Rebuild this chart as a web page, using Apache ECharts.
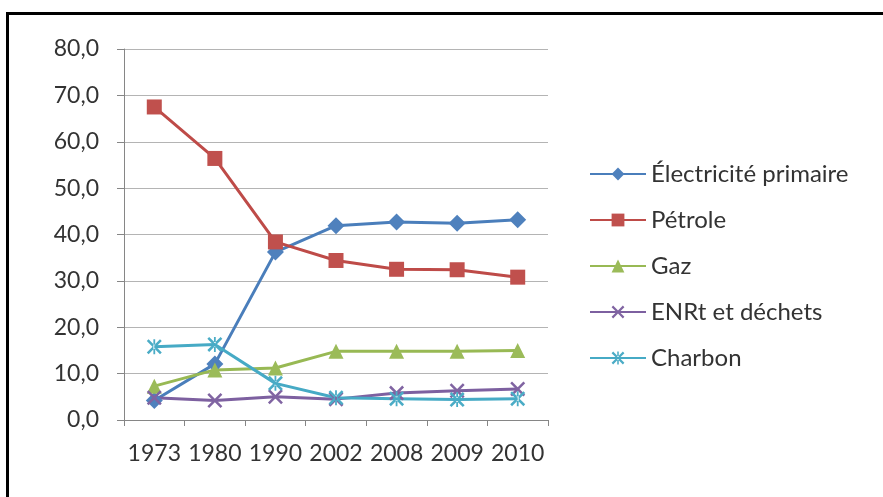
<!DOCTYPE html>
<html lang="fr">
<head>
    <meta charset="UTF-8">
    <title>Consommation d'énergie primaire</title>
    <script src="https://cdn.jsdelivr.net/npm/echarts@6.0.0/dist/echarts.min.js"></script>
    <style>
        html, body { margin: 0; padding: 0; background: #fff; }
        #cadre { position: absolute; left: 6px; top: 12px; width: 900px; height: 500px;
                 border-left: 3px solid #000; border-top: 3px solid #000; }
        #main { position: absolute; left: 0; top: 0; width: 883px; height: 497px; }
    </style>
</head>
<body>
<div id="cadre"></div>
<div id="main"></div>
<script>
    // données (%)
    var annees = ['1973', '1980', '1990', '2002', '2008', '2009', '2010'];
    var electricite = [4.2, 12.1, 36.2, 41.9, 42.7, 42.4, 43.2];
    var petrole = [67.5, 56.4, 38.4, 34.4, 32.5, 32.4, 30.8];
    var gaz = [7.3, 10.8, 11.2, 14.8, 14.8, 14.8, 15.0];
    var enrt = [4.8, 4.2, 5.0, 4.5, 5.8, 6.3, 6.7];
    var charbon = [15.8, 16.3, 7.9, 4.8, 4.6, 4.4, 4.6];

    var police = 'Lato, "Open Sans", sans-serif';

    // marqueurs façon Excel
    var croix = 'path://M0,1.2 L1.2,0 L5,3.8 L8.8,0 L10,1.2 L6.2,5 L10,8.8 L8.8,10 L5,6.2 L1.2,10 L0,8.8 L3.8,5 Z';
    var etoile = croix + ' M4.4,0 L4.4,10 L5.6,10 L5.6,0 Z';

    function serie(nom, data, couleurLigne, couleurMarq, symbole, taille) {
        return {
            name: nom,
            type: 'line',
            data: data,
            symbol: symbole,
            symbolSize: taille,
            showAllSymbol: true,
            lineStyle: {color: couleurLigne, width: 3},
            itemStyle: {color: couleurMarq},
            emphasis: {disabled: true}
        };
    }

    var chart = echarts.init(document.getElementById('main'));
    var option = {
        animation: false,
        textStyle: {fontFamily: police},
        grid: {left: 124, right: 335, top: 49, bottom: 77},
        legend: {
            orient: 'vertical',
            left: 584,
            top: 155,
            itemWidth: 56,
            itemHeight: 16,
            itemGap: 18,
            textStyle: {fontSize: 24, color: '#333', fontFamily: police, lineHeight: 28},
            data: ['Électricité primaire', 'Pétrole', 'Gaz', 'ENRt et déchets', 'Charbon']
        },
        xAxis: {
            type: 'category',
            data: annees,
            boundaryGap: true,
            axisLine: {lineStyle: {color: '#868686', width: 1}},
            axisTick: {show: true, length: 6, lineStyle: {color: '#868686'}},
            axisLabel: {color: '#333', fontSize: 23, margin: 22, interval: 0}
        },
        yAxis: {
            type: 'value',
            min: 0,
            max: 80,
            interval: 10,
            axisLine: {show: true, lineStyle: {color: '#868686'}},
            axisTick: {show: true, length: 7, lineStyle: {color: '#868686'}},
            splitLine: {lineStyle: {color: '#b4b4b4', width: 1}},
            axisLabel: {
                color: '#333', fontSize: 23, margin: 25,
                formatter: function (v) { return v.toFixed(1).replace('.', ','); }
            }
        },
        series: [
            serie('Électricité primaire', electricite, '#4A7EBB', '#4F81BD', 'diamond', 17),
            serie('Pétrole', petrole, '#BE4B48', '#C0504D', 'rect', 15),
            serie('Gaz', gaz, '#98B954', '#9BBB59', 'triangle', 15),
            serie('ENRt et déchets', enrt, '#7D60A0', '#8064A2', croix, 15),
            serie('Charbon', charbon, '#46AAC5', '#4BACC6', etoile, 15)
        ]
    };
    chart.setOption(option);
</script>
</body>
</html>
